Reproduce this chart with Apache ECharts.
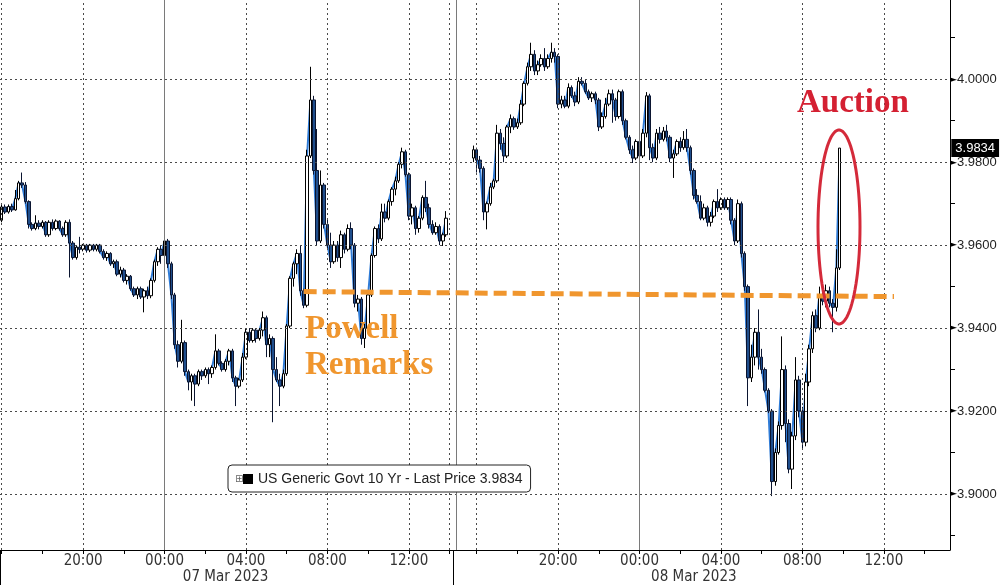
<!DOCTYPE html>
<html>
<head>
<meta charset="utf-8">
<script src="https://cdn.jsdelivr.net/npm/echarts@6.0.0/dist/echarts.min.js"></script>
<style>
html,body{margin:0;padding:0;background:#fff;}
#chart{width:1003px;height:585px;}
</style>
</head>
<body>
<div id="chart"></div>
<script>
// ---------------- data ----------------
const barMinutes = 10;
const sessions = [
  { start: '2023-03-06 16:00', bars: 134 },
  { start: '2023-03-07 15:00', bars: 146 }
];
const session1FirstBar = '2023-03-06 16:00';
const session2FirstBar = '2023-03-07 15:50';
const timeTickLabels = ['20:00', '00:00', '04:00', '08:00', '12:00'];
const dateLabelAt = ['2023-03-07 03:00', '2023-03-08 02:40'];
const dateLabelText = ['07 Mar 2023', '08 Mar 2023'];
const yLabelValues = [3.90, 3.92, 3.94, 3.96, 3.98, 4.00];
const yMinorTicks = [3.89, 3.91, 3.93, 3.95, 3.97, 3.99, 4.01];
const dottedTimes = ['2023-03-06 16:00', '2023-03-06 20:00', '2023-03-07 04:00', '2023-03-07 08:00',
  '2023-03-07 12:00', '2023-03-07 14:00', '2023-03-07 16:00', '2023-03-07 20:00',
  '2023-03-08 04:00', '2023-03-08 08:00', '2023-03-08 12:00'];
const solidTimes = ['2023-03-07 00:00', '2023-03-07 15:00', '2023-03-08 00:00'];
const lastPrice = 3.9834;
const powellLine = [['2023-03-07 06:50', 3.9488], ['2023-03-08 12:30', 3.9476]];
const seriesName = 'US Generic Govt 10 Yr - Last Price ' + lastPrice.toFixed(4);

// [open, close, low, high]
const session1 = [
[3.9660,3.9692,3.9655,3.9700],[3.9692,3.9680,3.9675,3.9698],[3.9680,3.9693,3.9676,3.9698],[3.9693,3.9685,3.9680,3.9700],
[3.9685,3.9712,3.9683,3.9733],[3.9712,3.9750,3.9708,3.9755],[3.9750,3.9745,3.9738,3.9775],[3.9745,3.9705,3.9700,3.9752],
[3.9705,3.9650,3.9640,3.9708],[3.9650,3.9640,3.9635,3.9655],[3.9640,3.9653,3.9636,3.9672],[3.9653,3.9645,3.9638,3.9660],
[3.9645,3.9655,3.9640,3.9660],[3.9655,3.9625,3.9620,3.9658],[3.9625,3.9655,3.9620,3.9660],[3.9655,3.9640,3.9635,3.9662],
[3.9640,3.9658,3.9636,3.9662],[3.9658,3.9640,3.9635,3.9660],[3.9640,3.9625,3.9620,3.9645],[3.9625,3.9655,3.9620,3.9660],
[3.9655,3.9605,3.9522,3.9662],[3.9605,3.9570,3.9565,3.9610],[3.9570,3.9595,3.9565,3.9600],[3.9595,3.9590,3.9580,3.9620],
[3.9590,3.9600,3.9585,3.9603],[3.9600,3.9588,3.9582,3.9603],[3.9588,3.9600,3.9583,3.9603],[3.9600,3.9590,3.9585,3.9603],
[3.9590,3.9600,3.9585,3.9603],[3.9600,3.9585,3.9580,3.9603],[3.9585,3.9570,3.9565,3.9590],[3.9570,3.9580,3.9562,3.9585],
[3.9580,3.9555,3.9550,3.9583],[3.9555,3.9560,3.9545,3.9565],[3.9560,3.9530,3.9525,3.9565],[3.9530,3.9540,3.9522,3.9548],
[3.9540,3.9515,3.9510,3.9545],[3.9515,3.9525,3.9505,3.9530],[3.9525,3.9495,3.9490,3.9528],[3.9495,3.9480,3.9475,3.9500],
[3.9480,3.9495,3.9470,3.9500],[3.9495,3.9475,3.9470,3.9500],[3.9475,3.9490,3.9438,3.9495],[3.9490,3.9478,3.9470,3.9500],
[3.9478,3.9515,3.9472,3.9520],[3.9515,3.9560,3.9510,3.9565],[3.9560,3.9590,3.9550,3.9595],[3.9590,3.9575,3.9555,3.9600],
[3.9575,3.9610,3.9565,3.9618],[3.9610,3.9555,3.9545,3.9615],[3.9555,3.9480,3.9470,3.9560],[3.9480,3.9360,3.9350,3.9485],
[3.9360,3.9320,3.9305,3.9370],[3.9320,3.9365,3.9315,3.9420],[3.9365,3.9295,3.9285,3.9370],[3.9295,3.9270,3.9250,3.9300],
[3.9270,3.9285,3.9225,3.9290],[3.9285,3.9265,3.9212,3.9290],[3.9265,3.9295,3.9260,3.9300],[3.9295,3.9285,3.9275,3.9300],
[3.9285,3.9300,3.9280,3.9305],[3.9300,3.9290,3.9265,3.9305],[3.9290,3.9305,3.9280,3.9310],[3.9305,3.9345,3.9300,3.9385],
[3.9345,3.9315,3.9310,3.9350],[3.9315,3.9300,3.9295,3.9320],[3.9300,3.9320,3.9295,3.9325],[3.9320,3.9345,3.9310,3.9350],
[3.9345,3.9280,3.9270,3.9350],[3.9280,3.9260,3.9212,3.9285],[3.9260,3.9275,3.9255,3.9280],[3.9275,3.9330,3.9270,3.9340],
[3.9330,3.9390,3.9325,3.9400],[3.9390,3.9370,3.9365,3.9400],[3.9370,3.9395,3.9365,3.9400],[3.9395,3.9375,3.9365,3.9400],
[3.9375,3.9395,3.9370,3.9400],[3.9395,3.9425,3.9380,3.9440],[3.9425,3.9360,3.9330,3.9430],[3.9360,3.9375,3.9330,3.9385],
[3.9375,3.9300,3.9173,3.9380],[3.9300,3.9275,3.9270,3.9330],[3.9275,3.9260,3.9212,3.9290],[3.9260,3.9290,3.9255,3.9300],
[3.9290,3.9405,3.9285,3.9410],[3.9405,3.9520,3.9400,3.9525],[3.9520,3.9555,3.9500,3.9560],[3.9555,3.9580,3.9530,3.9590],
[3.9580,3.9490,3.9478,3.9600],[3.9490,3.9455,3.9448,3.9495],[3.9455,3.9815,3.9450,3.9830],[3.9815,3.9950,3.9810,4.0030],
[3.9950,3.9780,3.9770,3.9960],[3.9780,3.9610,3.9600,3.9880],[3.9610,3.9745,3.9605,3.9780],[3.9745,3.9650,3.9640,3.9750],
[3.9650,3.9600,3.9590,3.9665],[3.9600,3.9560,3.9545,3.9630],[3.9560,3.9600,3.9555,3.9610],[3.9600,3.9570,3.9560,3.9610],
[3.9570,3.9625,3.9545,3.9635],[3.9625,3.9590,3.9580,3.9630],[3.9590,3.9640,3.9585,3.9650],[3.9640,3.9600,3.9590,3.9655],
[3.9600,3.9460,3.9450,3.9605],[3.9460,3.9470,3.9440,3.9480],[3.9470,3.9375,3.9360,3.9475],[3.9375,3.9400,3.9352,3.9410],
[3.9400,3.9480,3.9395,3.9485],[3.9480,3.9575,3.9475,3.9580],[3.9575,3.9640,3.9570,3.9645],[3.9640,3.9615,3.9605,3.9650],
[3.9615,3.9680,3.9610,3.9700],[3.9680,3.9665,3.9655,3.9700],[3.9665,3.9705,3.9660,3.9710],[3.9705,3.9735,3.9695,3.9740],
[3.9735,3.9755,3.9720,3.9765],[3.9755,3.9795,3.9750,3.9800],[3.9795,3.9825,3.9785,3.9835],[3.9825,3.9770,3.9765,3.9830],
[3.9770,3.9670,3.9660,3.9775],[3.9670,3.9690,3.9650,3.9700],[3.9690,3.9640,3.9625,3.9695],[3.9640,3.9665,3.9630,3.9670],
[3.9665,3.9715,3.9660,3.9720],[3.9715,3.9690,3.9680,3.9755],[3.9690,3.9650,3.9640,3.9700],[3.9650,3.9630,3.9625,3.9660],
[3.9630,3.9645,3.9625,3.9655],[3.9645,3.9610,3.9600,3.9650],[3.9610,3.9625,3.9598,3.9630],[3.9625,3.9665,3.9620,3.9682]
];
const session2 = [
[3.9810,3.9830,3.9800,3.9840],[3.9830,3.9805,3.9775,3.9835],[3.9805,3.9785,3.9775,3.9815],[3.9785,3.9680,3.9660,3.9790],
[3.9680,3.9700,3.9638,3.9705],[3.9700,3.9740,3.9695,3.9750],[3.9740,3.9755,3.9735,3.9760],[3.9755,3.9870,3.9750,3.9890],
[3.9870,3.9845,3.9830,3.9880],[3.9845,3.9815,3.9800,3.9860],[3.9815,3.9885,3.9810,3.9890],[3.9885,3.9905,3.9870,3.9915],
[3.9905,3.9885,3.9878,3.9910],[3.9885,3.9895,3.9880,3.9905],[3.9895,3.9940,3.9890,3.9950],[3.9940,3.9990,3.9935,3.9995],
[3.9990,4.0030,3.9985,4.0040],[4.0030,4.0060,4.0020,4.0088],[4.0060,4.0020,4.0010,4.0070],[4.0020,4.0035,4.0010,4.0045],
[4.0035,4.0050,4.0030,4.0060],[4.0050,4.0030,4.0020,4.0075],[4.0030,4.0050,4.0025,4.0060],[4.0050,4.0065,4.0040,4.0088],
[4.0065,4.0055,4.0040,4.0075],[4.0055,3.9940,3.9930,4.0060],[3.9940,3.9950,3.9930,3.9960],[3.9950,3.9935,3.9930,3.9960],
[3.9935,3.9980,3.9930,3.9990],[3.9980,3.9960,3.9955,3.9985],[3.9960,3.9945,3.9935,3.9970],[3.9945,3.9995,3.9940,4.0005],
[3.9995,3.9990,3.9985,4.0005],[3.9990,3.9970,3.9965,4.0000],[3.9970,3.9955,3.9950,3.9975],[3.9955,3.9965,3.9945,3.9970],
[3.9965,3.9950,3.9940,3.9970],[3.9950,3.9885,3.9875,3.9955],[3.9885,3.9910,3.9880,3.9920],[3.9910,3.9940,3.9905,3.9955],
[3.9940,3.9965,3.9935,3.9975],[3.9965,3.9950,3.9895,3.9975],[3.9950,3.9910,3.9900,3.9955],[3.9910,3.9970,3.9905,3.9975],
[3.9970,3.9900,3.9890,3.9975],[3.9900,3.9860,3.9855,3.9905],[3.9860,3.9830,3.9820,3.9865],[3.9830,3.9810,3.9798,3.9840],
[3.9810,3.9850,3.9805,3.9855],[3.9850,3.9815,3.9780,3.9860],[3.9815,3.9870,3.9810,3.9880],[3.9870,3.9960,3.9860,3.9969],
[3.9960,3.9835,3.9805,3.9965],[3.9835,3.9810,3.9800,3.9845],[3.9810,3.9870,3.9805,3.9880],[3.9870,3.9855,3.9845,3.9885],
[3.9855,3.9875,3.9850,3.9885],[3.9875,3.9860,3.9850,3.9890],[3.9860,3.9810,3.9800,3.9865],[3.9810,3.9820,3.9762,3.9830],
[3.9820,3.9850,3.9815,3.9855],[3.9850,3.9835,3.9825,3.9860],[3.9835,3.9855,3.9830,3.9875],[3.9855,3.9835,3.9825,3.9880],
[3.9835,3.9780,3.9770,3.9840],[3.9780,3.9720,3.9710,3.9785],[3.9720,3.9705,3.9700,3.9735],[3.9705,3.9665,3.9660,3.9720],
[3.9665,3.9690,3.9660,3.9700],[3.9690,3.9655,3.9645,3.9695],[3.9655,3.9670,3.9645,3.9680],[3.9670,3.9705,3.9665,3.9710],
[3.9705,3.9690,3.9680,3.9735],[3.9690,3.9710,3.9685,3.9715],[3.9710,3.9690,3.9685,3.9715],[3.9690,3.9710,3.9685,3.9715],
[3.9710,3.9660,3.9650,3.9715],[3.9660,3.9610,3.9600,3.9665],[3.9610,3.9700,3.9605,3.9710],[3.9700,3.9580,3.9570,3.9705],
[3.9580,3.9500,3.9490,3.9585],[3.9500,3.9280,3.9212,3.9505],[3.9280,3.9330,3.9270,3.9360],[3.9330,3.9390,3.9310,3.9400],
[3.9390,3.9330,3.9300,3.9445],[3.9330,3.9300,3.9290,3.9350],[3.9300,3.9250,3.9245,3.9305],[3.9250,3.9200,3.9195,3.9255],
[3.9200,3.9030,3.8995,3.9205],[3.9030,3.9100,3.9020,3.9110],[3.9100,3.9165,3.9095,3.9175],[3.9165,3.9300,3.9155,3.9380],
[3.9300,3.9170,3.9125,3.9310],[3.9170,3.9060,3.9050,3.9180],[3.9060,3.9140,3.9012,3.9150],[3.9140,3.9275,3.9130,3.9330],
[3.9275,3.9200,3.9185,3.9285],[3.9200,3.9125,3.9110,3.9210],[3.9125,3.9270,3.9115,3.9290],[3.9270,3.9350,3.9260,3.9360],
[3.9350,3.9430,3.9340,3.9440],[3.9430,3.9400,3.9390,3.9445],[3.9400,3.9480,3.9395,3.9500],[3.9480,3.9465,3.9455,3.9500],
[3.9465,3.9490,3.9450,3.9505],[3.9490,3.9460,3.9450,3.9500],[3.9460,3.9450,3.9390,3.9470],[3.9450,3.9545,3.9440,3.9590],
[3.9545,3.9834,3.9540,3.9834]
];

// ---------------- build categories / series ----------------
function pad(n){ return (n < 10 ? '0' : '') + n; }
function fmt(d){
  return d.getUTCFullYear() + '-' + pad(d.getUTCMonth() + 1) + '-' + pad(d.getUTCDate()) + ' ' +
         pad(d.getUTCHours()) + ':' + pad(d.getUTCMinutes());
}
function parseT(s){
  const [dp, tp] = s.split(' ');
  const [y, m, d] = dp.split('-').map(Number);
  const [h, mi] = tp.split(':').map(Number);
  return Date.UTC(y, m - 1, d, h, mi);
}
const categories = [];
sessions.forEach(s => {
  const t0 = parseT(s.start);
  for (let k = 0; k < s.bars; k++) categories.push(fmt(new Date(t0 + k * barMinutes * 60000)));
});
const EMPTY = ['-', '-', '-', '-'];
const candles = categories.map(() => EMPTY);
[[session1FirstBar, session1], [session2FirstBar, session2]].forEach(([first, rows]) => {
  const i0 = categories.indexOf(first);
  rows.forEach((r, k) => { candles[i0 + k] = r; });
});
const closes = candles.map(r => r[1]);

// ---------------- chart ----------------
const chart = echarts.init(document.getElementById('chart'), null, { renderer: 'canvas' });
const narrowFont = "'Liberation Sans Narrow', 'DejaVu Sans Condensed', sans-serif";
const dotStyle = { color: '#4a4a4a', width: 1, type: [2, 3] };

const gridLines = [];
yLabelValues.forEach(v => gridLines.push({ yAxis: v, lineStyle: dotStyle }));
dottedTimes.forEach(t => gridLines.push({ xAxis: t, lineStyle: dotStyle }));
solidTimes.forEach(t => gridLines.push({ xAxis: t, lineStyle: { color: '#7a7a7a', width: 1, type: 'solid' } }));
// last-price tag: an invisible horizontal segment whose end label is the tag
gridLines.push([
  { coord: [categories[0], lastPrice], lineStyle: { color: 'rgba(0,0,0,0)', width: 1 },
    label: { show: true, position: 'end', distance: 3, formatter: lastPrice.toFixed(4),
             backgroundColor: '#000', color: '#fff', fontSize: 13,
             fontFamily: "'Liberation Sans', Arial, sans-serif", padding: [3, 4, 2, 4] } },
  { coord: [categories[categories.length - 1], lastPrice] }
]);

const ellipsePts = [];
for (let k = 0; k <= 90; k++) {
  const a = k / 90 * Math.PI * 2;
  ellipsePts.push([839 + 21 * Math.cos(a), 227 + 97 * Math.sin(a)]);
}

const option = {
  animation: false,
  backgroundColor: '#ffffff',
  grid: { left: 0, right: 53, top: 0, bottom: 34 },
  legend: {
    z: 20,
    left: 228, top: 465,
    padding: [7, 8, 6, 15],
    itemWidth: 10, itemHeight: 10,
    backgroundColor: '#ffffff',
    borderColor: '#222', borderWidth: 1, borderRadius: 4,
    selectedMode: false,
    data: [{ name: seriesName, icon: 'rect', itemStyle: { color: '#000', borderWidth: 0 } }],
    textStyle: { fontSize: 14, color: '#222', fontFamily: "'Liberation Sans', Arial, sans-serif" }
  },
  xAxis: [{
    type: 'category',
    data: categories,
    boundaryGap: true,
    axisLine: { show: true, lineStyle: { color: '#000', width: 1 } },
    axisTick: {
      show: true, alignWithLabel: true, length: 4,
      interval: (i, v) => v.slice(14) === '00' && (+v.slice(11, 13)) % 2 === 0,
      lineStyle: { color: '#000' }
    },
    axisLabel: {
      interval: (i, v) => timeTickLabels.indexOf(v.slice(11)) >= 0,
      formatter: v => v.slice(11),
      fontSize: 15, color: '#333', fontFamily: narrowFont, margin: 4
    },
    splitLine: { show: false }
  }, {
    type: 'category',
    data: categories,
    position: 'bottom',
    offset: 16,
    axisLine: { show: false },
    axisTick: { show: false },
    axisLabel: {
      interval: (i, v) => dateLabelAt.indexOf(v) >= 0,
      formatter: v => dateLabelText[dateLabelAt.indexOf(v)] || '',
      fontSize: 15, color: '#333', fontFamily: narrowFont, margin: 4
    },
    splitLine: { show: false }
  }],
  yAxis: {
    type: 'value',
    position: 'right',
    min: 3.8865, max: 4.0191,
    scale: true,
    axisLine: { show: true, lineStyle: { color: '#000', width: 1 } },
    axisTick: { show: true, customValues: yMinorTicks, length: 5, lineStyle: { color: '#000' } },
    axisLabel: {
      customValues: yLabelValues,
      margin: 0,
      formatter: v => '{a|►}{b|' + v.toFixed(4) + '}',
      rich: {
        a: { fontSize: 9, color: '#000', fontFamily: "'DejaVu Sans', sans-serif" },
        b: { fontSize: 13, color: '#222', fontFamily: "'Liberation Sans', Arial, sans-serif" }
      }
    },
    splitLine: { show: false }
  },
  series: [{
    name: 'close line',
    type: 'line',
    data: closes,
    z: 1,
    symbol: 'none',
    connectNulls: false,
    lineStyle: { color: '#2f7bd6', width: 2 },
    itemStyle: { color: '#2f7bd6' },
    silent: true,
    markLine: {
      silent: true, symbol: 'none', animation: false,
      label: { show: false },
      data: gridLines
    }
  }, {
    name: seriesName,
    type: 'candlestick',
    data: candles,
    z: 3,
    barWidth: 3,
    itemStyle: {
      color: '#ffffff', color0: '#1f4e8c',
      borderColor: '#000000', borderColor0: '#0b1530',
      borderWidth: 1
    },
    markLine: {
      silent: true, symbol: 'none', animation: false,
      data: [
        [{ coord: powellLine[0], lineStyle: { color: '#f0962e', width: 5, type: [13, 6], cap: 'butt' }, label: { show: false } },
         { coord: powellLine[1] }]
      ]
    }
  }],
  graphic: [
    { type: 'text', z: 100, style: { text: 'Auction', x: 797, y: 103, textVerticalAlign: 'middle',
      font: 'bold 33px "Liberation Serif", "DejaVu Serif", serif', fill: '#d42032' } },
    { type: 'text', z: 100, style: { text: 'Powell', x: 305, y: 329, textVerticalAlign: 'middle',
      font: 'bold 33px "Liberation Serif", "DejaVu Serif", serif', fill: '#f0962e' } },
    { type: 'text', z: 100, style: { text: 'Remarks', x: 305, y: 365, textVerticalAlign: 'middle',
      font: 'bold 33px "Liberation Serif", "DejaVu Serif", serif', fill: '#f0962e' } },
    { type: 'polygon', z: 100, shape: { points: ellipsePts },
      style: { fill: 'none', stroke: '#d42a3a', lineWidth: 3 } },
    { type: 'text', z: 120, style: { text: '⊞', x: 235, y: 479, textVerticalAlign: 'middle',
      font: '10px "DejaVu Sans", sans-serif', fill: '#666' } },
    { type: 'line', z: 100, shape: { x1: 0.5, y1: 551, x2: 0.5, y2: 585 }, style: { stroke: '#000', lineWidth: 1 } },
    { type: 'line', z: 100, shape: { x1: 453.5, y1: 551, x2: 453.5, y2: 585 }, style: { stroke: '#000', lineWidth: 1 } }
  ]
};
chart.setOption(option);
</script>
</body>
</html>
